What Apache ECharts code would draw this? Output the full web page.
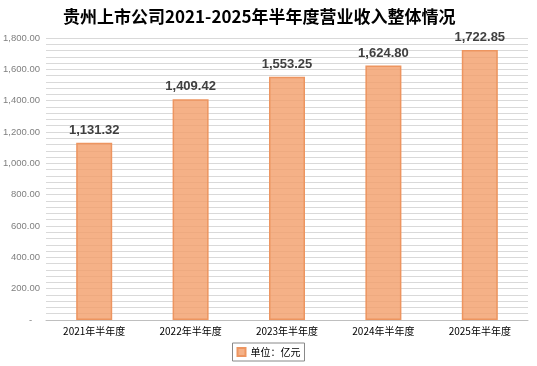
<!DOCTYPE html>
<html><head><meta charset="utf-8">
<script src="https://cdn.jsdelivr.net/npm/echarts@6/dist/echarts.min.js"></script>
<style>html,body{margin:0;padding:0;background:#fff}#c{width:537px;height:366px}</style>
</head><body><div id="c"></div>
<script>
const categories = ['2021年半年度','2022年半年度','2023年半年度','2024年半年度','2025年半年度'];
const revenue = [1131.32, 1409.42, 1553.25, 1624.80, 1722.85];
const seriesName = '单位：亿元';
const titleText = '贵州上市公司2021-2025年半年度营业收入整体情况';

const fmt = v => v.toLocaleString('en-US', {minimumFractionDigits: 2, maximumFractionDigits: 2});
const chart = echarts.init(document.getElementById('c'));
const FONT = '"Liberation Sans", "Noto Sans CJK SC", sans-serif';
chart.setOption({
  animation: false,
  textStyle: {fontFamily: FONT},
  title: {
    text: titleText, left: 58, top: 3,
    textStyle: {fontSize: 17, fontWeight: 'bold', color: '#000', fontFamily: '"Noto Sans CJK SC", sans-serif'}
  },
  legend: {
    bottom: 5, left: 'center',
    data: [seriesName],
    itemWidth: 8, itemHeight: 8, itemGap: 4,
    borderColor: '#888', borderWidth: 1, padding: [4, 4, 4, 4],
    icon: 'rect',
    textStyle: {fontSize: 10, color: '#000', fontFamily: '"Noto Sans CJK SC", sans-serif'}
  },
  grid: {left: 46, right: 9, top: 38, bottom: 46, containLabel: false},
  xAxis: {
    type: 'category', data: categories,
    axisLine: {lineStyle: {color: '#bfbfbf'}},
    axisTick: {show: false},
    axisLabel: {fontSize: 10, color: '#000', margin: 6, fontFamily: '"Noto Sans CJK SC", sans-serif'}
  },
  yAxis: {
    type: 'value', min: 0, max: 1800, interval: 200,
    axisLine: {show: false}, axisTick: {show: false},
    axisLabel: {fontSize: 9.5, color: '#7f7f7f', margin: 6,
      formatter: v => v === 0 ? '-   ' : fmt(v)},
    splitLine: {lineStyle: {color: '#d9d9d9', width: 1}},
    minorTick: {show: false, splitNumber: 5},
    minorSplitLine: {show: true, lineStyle: {color: '#d9d9d9', width: 1}}
  },
  series: [{
    name: seriesName, type: 'bar', data: revenue, barWidth: 36,
    itemStyle: {color: 'rgba(243,158,105,0.8)', borderColor: '#ED9560', borderWidth: 1.5},
    label: {show: true, position: 'top', distance: 6, fontSize: 13, fontWeight: 'bold', color: '#404040',
      formatter: p => fmt(p.value)}
  }]
});
</script></body></html>
